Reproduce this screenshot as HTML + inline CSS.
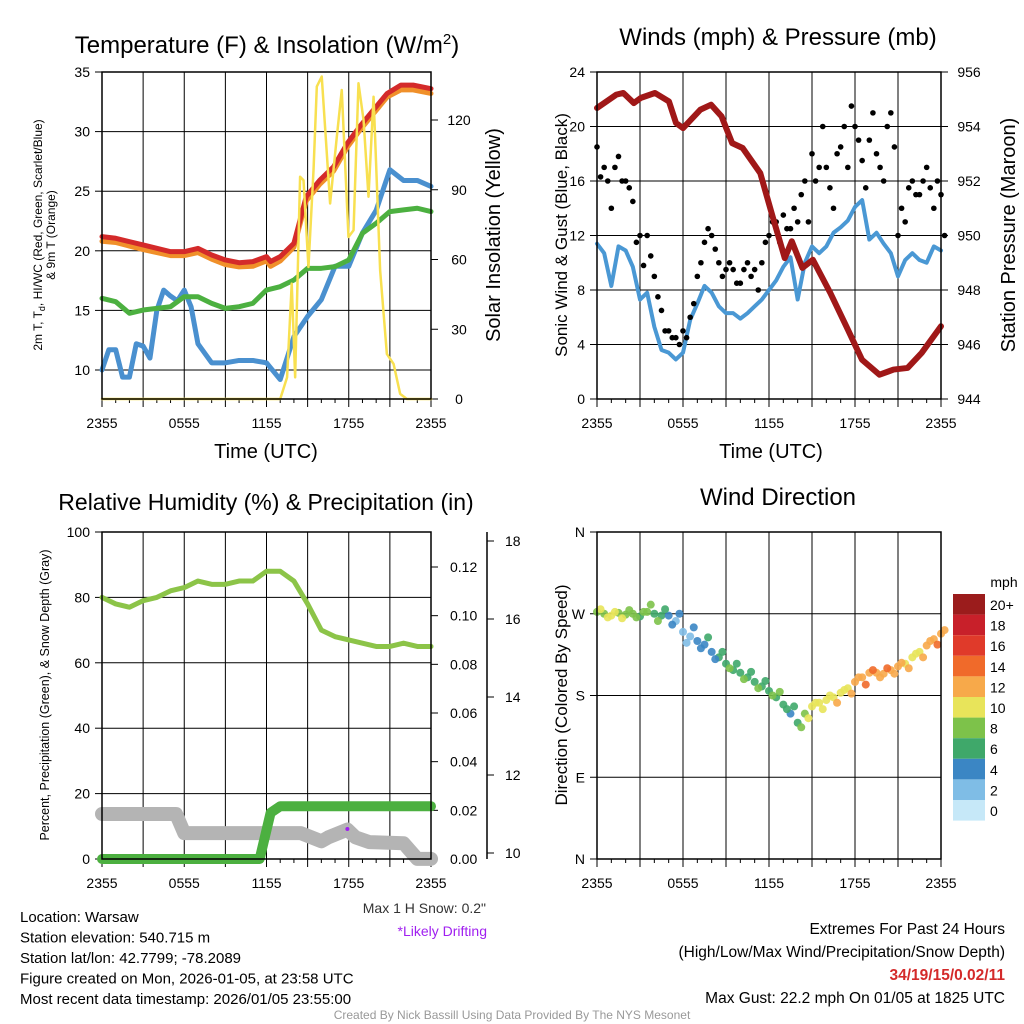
<!DOCTYPE html>
<html><head><meta charset="utf-8"><style>
body{margin:0;background:#fff;}
svg{display:block;font-family:"Liberation Sans",sans-serif;}
</style></head><body>
<svg id="c" width="1024" height="1024" viewBox="0 0 1024 1024"></svg>
<script>
// ---------- DATA ----------
const hoursHourly=[0,1,2,3,4,5,6,7,8,9,10,11,12,13,14,15,16,17,18,19,20,21,22,23,24];
const tempHours=[0,1,2,3,4,5,6,7,8,9,10,11,12,12.3,13,14,14.9,15.9,16.9,17.9,18.8,19.8,20.8,21.8,22.7,24];
const tempRed=[21.19,21.05,20.77,20.49,20.21,19.93,19.93,20.2,19.65,19.23,19.0,19.09,19.51,19.1,19.51,20.63,24.55,25.94,27.06,29.02,30.42,31.82,33.2,33.9,33.9,33.6];
const tempOrange=[20.8,20.7,20.4,20.1,19.85,19.6,19.6,19.85,19.3,18.85,18.65,18.7,19.15,18.7,19.15,20.3,24.2,25.6,26.7,28.7,30.1,31.5,32.9,33.5,33.5,33.2];
const tempGreen=[16.01,15.73,14.76,15.03,15.17,15.31,16.15,16.15,15.59,15.17,15.31,15.59,16.71,16.99,17.55,18.53,18.53,18.67,19.23,21.47,22.31,23.29,23.43,23.57,23.29];
const blueHours=[0,0.5,1,1.5,2,2.5,3,3.5,4,4.5,5,5.5,6,6.5,7,8,9,10,11,12,13,14,15,16,17,18,19,20,21,22,23,24];
const tempBlue=[10,11.7,11.7,9.4,9.4,12.2,12,11,15,16.7,16.2,15.8,16.7,15.3,12.2,10.6,10.6,10.8,10.8,10.6,9.2,12.8,14.5,15.9,18.7,18.7,21.5,23.4,26.8,25.9,25.9,25.4];
const solarHours=[0,13.0,13.5,13.84,14.09,14.45,14.7,15.06,15.43,15.67,16.03,16.64,17.13,17.49,17.98,18.35,18.71,19.08,19.44,19.81,20.29,20.78,21.27,21.75,22.24,24];
const solar=[0,0,9.3,49.6,9.3,95.6,94.1,56.8,98.4,134.4,138.7,84.1,112.8,132.9,69.7,72.6,135.8,120,87,130,55.3,19.4,15.1,2.2,0,0];
const halfHours=[0,0.5,1,1.5,2,2.5,3,3.5,4,4.5,5,5.5,6,6.5,7,7.5,8,8.5,9,9.5,10,10.5,11,11.5,12,12.5,13,13.5,14,14.5,15,15.5,16,16.5,17,17.5,18,18.5,19,19.5,20,20.5,21,21.5,22,22.5,23,23.5,24];
const windBlue=[11.4,10.7,8.3,11.2,10.9,9.7,7.3,7.8,5.3,3.6,3.4,2.9,3.4,5.8,7.0,8.3,7.8,6.8,6.3,6.3,5.9,6.3,6.8,7.3,8.0,8.7,9.7,10.4,7.3,10,11.2,10.7,11.2,12.2,12.6,13.1,14.1,14.6,11.7,12.2,11.4,10.7,9.0,10.2,10.7,10.2,10,11.2,10.9];
const pressureHours=[0,1.35,1.84,2.57,3.06,4.04,5.02,5.51,6.0,7.22,7.96,8.69,9.43,10.16,11.39,12.25,13.1,13.59,14.33,15.06,16.28,17.51,18.49,19.71,20.69,21.67,22.65,24];
const pressure=[954.68,955.17,955.23,954.86,955.05,955.23,954.92,954.13,953.94,954.62,954.80,954.37,953.39,953.21,952.29,950.70,949.17,949.79,948.81,949.11,947.89,946.54,945.44,944.89,945.08,945.14,945.69,946.67];
const gustsA=[18.5,17,14,17.8,16,14.5,12,12,9,6.5,5,4.5,5,6,9,11.5,12,10,9.5,9.5,8.5,10,9.5,10,12,13,13.5,12.5,13,16,18,17,17,14,18.5,17,20,17.5,19,18,16,21,12,13,16,15,17,14,15];
const gustsB=[16.3,16,17,16,15.5,11.5,9.8,10.5,7.5,5,4.5,4,4.5,7,10,12.5,11,9,10,8.5,9.5,9,8,11.5,13,11.5,12.5,14,15,13,16,20,15.5,18,20,21.5,19,15.5,21,17,20,18.5,14,15.5,15,16,15.5,16,12];
const rh=[80,78,77,79,80,82,83,85,84,84,85,85,88,88,85,78,70,68,67,66,65,65,66,65,65];
const precipHours=[0,11.5,12.3,13,24];
const precip=[0,0,0.019,0.0217,0.0217];
const snowHours=[0,5.4,6.0,14.5,16.0,16.5,17.9,18.5,19.5,22,23,24];
const snow=[11.0,11.0,10.51,10.51,10.3,10.4,10.6,10.4,10.28,10.25,9.85,9.85];
const dirDeg=[272,270,268,271,269,270,267,272,270,268,268,262,250,245,240,236,228,222,215,208,205,200,195,190,185,178,170,160,150,160,168,172,175,178,183,188,195,200,205,205,204,208,212,215,222,228,235,242,248];
const dirDeg2=[275,266,272,265,274,266,272,280,262,275,258,270,238,255,232,244,220,228,210,215,198,206,188,196,180,184,165,168,145,155,172,165,180,172,186,182,200,192,208,200,210,204,216,210,226,222,240,236,252];
const dirSpeed=[9,9,10,9,8,8,7,8,7,6,4,3,2,3,4,5,4,6,7,6,7,6,7,6,7,7,6,5,7,9,10,10,10,11,10,11,12,13,13,12,13,12,12,11,10,11,12,13,12];
const timeLabels=["2355","0555","1155","1755","2355"];
const cbLabels=["20+","18","16","14","12","10","8","6","4","2","0"];
const cbColors=["#9b1c1c","#c8202a","#e03a2a","#f06a2a","#f7a94a","#e8e45a","#7dc24a","#3fa86a","#3b86c4","#7fbde6","#c6e8f8"];

// ---------- HELPERS ----------
const svg=document.getElementById('c');const NS="http://www.w3.org/2000/svg";
function mk(tag,at,parent){const e=document.createElementNS(NS,tag);for(const k in at)e.setAttribute(k,at[k]);(parent||svg).appendChild(e);return e;}
function txt(x,y,s,size,anchor,extra){const e=mk('text',Object.assign({x:x,y:y,'font-size':size,'text-anchor':anchor||'middle',fill:'#000'},extra||{}));e.textContent=s;return e;}
function lin(d0,d1,r0,r1){return v=>r0+(v-d0)*(r1-r0)/(d1-d0);}
function frame(x0,y0,x1,y1,name){
  const g=mk('g',{});
  const X=lin(0,24,x0,x1);
  for(let h=3;h<24;h+=3)mk('line',{x1:X(h),x2:X(h),y1:y0,y2:y1,stroke:'#000','stroke-width':1},g);
  timeLabels.forEach((l,i)=>{const t=txt(X(i*6),y1+29,l,14);});
  for(let h=0;h<=24;h+=1)mk('line',{x1:X(h),x2:X(h),y1:y1,y2:y1+(h%3?4:8),stroke:'#000'},g);
  return {X,g};
}
function hgrid(x0,x1,ys){ys.forEach(y=>mk('line',{x1:x0,x2:x1,y1:y,y2:y,stroke:'#000','stroke-width':1}));}
function border(x0,y0,x1,y1){const r=mk('rect',{x:x0,y:y0,width:x1-x0,height:y1-y0,fill:'none',stroke:'#000','stroke-width':1.5});}
function poly(xs,ys,X,Y,color,w,name){const p=mk('polyline',{points:xs.map((h,i)=>X(h)+','+Y(ys[i])).join(' '),fill:'none',stroke:color,'stroke-width':w,'stroke-linejoin':'round','stroke-linecap':'round'});return p;}

// ---------- PANEL 1 ----------
{const x0=102,y0=72,x1=431,y1=399;
 const {X}=frame(x0,y0,x1,y1,'temperature-grid');
 const Y=lin(10,35,370,72),YS=lin(0,120,399,120);
 hgrid(x0,x1,[10,15,20,25,30].map(Y));
 [10,15,20,25,30,35].forEach(v=>{txt(x0-12,Y(v)+5,String(v),14,'end');mk('line',{x1:x0,x2:x0-7,y1:Y(v),y2:Y(v),stroke:'#000'});});
 [0,30,60,90,120].forEach(v=>{txt(x1+28,YS(v)+5,String(v),14,'middle');mk('line',{x1:x1,x2:x1+7,y1:YS(v),y2:YS(v),stroke:'#000'});});
 poly(blueHours,tempBlue,X,Y,'#4a90cf',5,'temp-9m-line');
 poly(hoursHourly,tempGreen,X,Y,'#4cb040',5,'dewpoint-line');
 poly(tempHours,tempOrange,X,Y,'#f0902a',5,'temp-9m-orange-line');
 poly(tempHours,tempRed,X,Y,'#d42a2a',5,'temp-2m-line');
 poly(solarHours,solar,X,YS,'#f8e050',2.5,'solar-line');
 border(x0,y0,x1,y1);
 const t=mk('text',{x:267,y:53,'font-size':24,'text-anchor':'middle'});
 t.innerHTML='Temperature (F) &amp; Insolation (W/m<tspan dy="-9" font-size="15">2</tspan><tspan dy="9">)</tspan>';
 txt(266,458,'Time (UTC)',20);
 const yl=mk('text',{transform:'translate(42,235) rotate(-90)','font-size':12,'text-anchor':'middle'});
 yl.innerHTML='2m T, T<tspan dy="3" font-size="9">d</tspan><tspan dy="-3">, HI/WC (Red, Green, Scarlet/Blue)</tspan>';
 txt(0,0,'& 9m T (Orange)',12,'middle',{transform:'translate(55,235) rotate(-90)'});
 txt(0,0,'Solar Insolation (Yellow)',20,'middle',{transform:'translate(500,235) rotate(-90)'});
}
// ---------- PANEL 2 ----------
{const x0=597,y0=72,x1=941,y1=399;
 const {X}=frame(x0,y0,x1,y1,'wind-grid');
 const Y=lin(0,24,399,72),YP=lin(944,956,399,72);
 hgrid(x0,x1,[4,8,12,16,20].map(Y));
 [0,4,8,12,16,20,24].forEach(v=>{txt(x0-12,Y(v)+5,String(v),14,'end');mk('line',{x1:x0,x2:x0-7,y1:Y(v),y2:Y(v),stroke:'#000'});});
 [944,946,948,950,952,954,956].forEach(v=>{txt(x1+28,YP(v)+5,String(v),14,'middle');mk('line',{x1:x1,x2:x1+7,y1:YP(v),y2:YP(v),stroke:'#000'});});
 poly(halfHours,windBlue,X,Y,'#4a98d4',4,'sonic-wind-line');
 [gustsA,gustsB].forEach((arr,k)=>arr.forEach((g,i)=>{const c=mk('circle',{cx:X(halfHours[i]+k*0.25),cy:Y(g),r:2.8,fill:'#000'});
   
   }));
 poly(pressureHours,pressure,X,YP,'#a01818',6,'pressure-line');
 border(x0,y0,x1,y1);
 txt(778,45,'Winds (mph) & Pressure (mb)',24);
 txt(771,458,'Time (UTC)',20);
 txt(0,0,'Sonic Wind & Gust (Blue, Black)',17,'middle',{transform:'translate(567,235) rotate(-90)'});
 txt(0,0,'Station Pressure (Maroon)',20,'middle',{transform:'translate(1015,235) rotate(-90)'});
}
// ---------- PANEL 3 ----------
{const x0=102,y0=532,x1=431,y1=859;
 const {X}=frame(x0,y0,x1,y1,'humidity-grid');
 const Y=lin(0,100,859,532),YP=lin(0,0.12,859,567),YS=lin(10,18,853,541);
 hgrid(x0,x1,[20,40,60,80].map(Y));
 [0,20,40,60,80,100].forEach(v=>{txt(x0-12,Y(v)+5,String(v),14,'end');mk('line',{x1:x0,x2:x0-7,y1:Y(v),y2:Y(v),stroke:'#000'});});
 [0,0.02,0.04,0.06,0.08,0.10,0.12].forEach(v=>{txt(x1+19,YP(v)+5,v.toFixed(2),14,'start');mk('line',{x1:x1,x2:x1+7,y1:YP(v),y2:YP(v),stroke:'#000'});});
 mk('line',{x1:487,x2:487,y1:532,y2:859,stroke:'#000','stroke-width':1.5});
 [10,12,14,16,18].forEach(v=>{txt(505,YS(v)+5,String(v),14,'start');mk('line',{x1:487,x2:494,y1:YS(v),y2:YS(v),stroke:'#000'});});
 poly(snowHours,snow,X,YS,'#b4b4b4',14,'snow-depth-line');
 poly(precipHours,precip,X,YP,'#4cb040',10,'precip-line');
 poly(hoursHourly,rh,X,Y,'#8cc448',5,'rh-line');
 mk('circle',{cx:X(17.9),cy:829,r:2,fill:'#a020f0'});
 border(x0,y0,x1,y1);
 txt(266,510,'Relative Humidity (%) & Precipitation (in)',23);
 txt(0,0,'Percent, Precipitation (Green), & Snow Depth (Gray)',12.5,'middle',{transform:'translate(49,695) rotate(-90)'});
 txt(486,913,'Max 1 H Snow: 0.2"',14,'end',{fill:'#333'});
 txt(487,936,'*Likely Drifting',14,'end',{fill:'#a020f0'});
}
// ---------- PANEL 4 ----------
{const x0=597,y0=532,x1=941,y1=859;
 const {X}=frame(x0,y0,x1,y1,'direction-grid');
 const Y=lin(0,360,859,532);
 hgrid(x0,x1,[90,180,270].map(Y));
 ['N','E','S','W','N'].forEach((l,i)=>{txt(x0-12,Y(i*90)+5,l,14,'end');mk('line',{x1:x0,x2:x0-7,y1:Y(i*90),y2:Y(i*90),stroke:'#000'});});
 function col(s){const idx=Math.max(0,Math.min(10,10-Math.floor(s/2)));return cbColors[idx];}
 [dirDeg,dirDeg2].forEach((arr,k)=>arr.forEach((d,i)=>{const c=mk('circle',{cx:X(halfHours[i]+k*0.25),cy:Y(d),r:4,fill:col(dirSpeed[i]+k),opacity:0.9});
   
   }));
 border(x0,y0,x1,y1);
 txt(778,505,'Wind Direction',24);
 txt(0,0,'Direction (Colored By Speed)',17,'middle',{transform:'translate(567,695) rotate(-90)'});
 txt(1004,587,'mph',14,'middle');
 cbColors.forEach((c,i)=>{const r=mk('rect',{x:953,y:594+i*20.6,width:32,height:20.6,fill:c});
   
   
   txt(990,594+i*20.6+16,cbLabels[i],14,'start');});
}
// ---------- FOOTER ----------
["Location: Warsaw","Station elevation: 540.715 m","Station lat/lon: 42.7799; -78.2089","Figure created on Mon, 2026-01-05, at 23:58 UTC","Most recent data timestamp: 2026/01/05 23:55:00"].forEach((s,i)=>{const t=txt(20,922+i*20.5,s,15,'start');});
txt(1005,934,'Extremes For Past 24 Hours',15.5,'end');
txt(1005,957,'(High/Low/Max Wind/Precipitation/Snow Depth)',15.5,'end');
txt(1005,980,'34/19/15/0.02/11',15.5,'end',{fill:'#d42a2a','font-weight':'bold'});
txt(1005,1003,'Max Gust: 22.2 mph On 01/05 at 1825 UTC',15.5,'end');
txt(512,1019,'Created By Nick Bassill Using Data Provided By The NYS Mesonet',12,'middle',{fill:'#999'});
</script>
</body></html>
